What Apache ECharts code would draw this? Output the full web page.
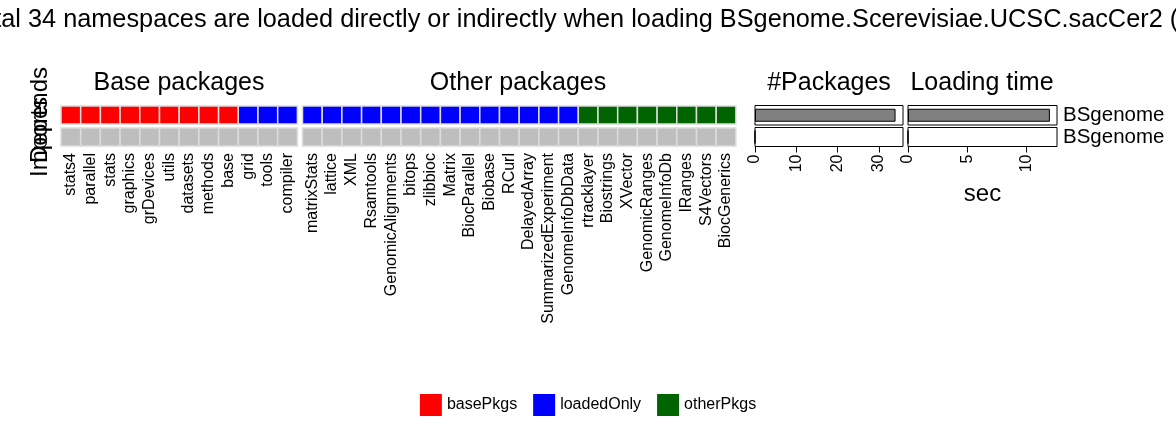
<!DOCTYPE html>
<html>
<head>
<meta charset="utf-8">
<script src="https://cdn.jsdelivr.net/npm/echarts@6/dist/echarts.min.js"></script>
<style>
  html, body { margin: 0; padding: 0; background: #fff; }
  #chart { width: 1176px; height: 427px; }
</style>
</head>
<body>
<div id="chart"></div>
<script>
// package columns, in plot order
const basePkgs = ['stats4', 'parallel', 'stats', 'graphics', 'grDevices', 'utils', 'datasets', 'methods', 'base'];
const baseLoaded = ['grid', 'tools', 'compiler'];
const otherLoaded = ['matrixStats', 'lattice', 'XML', 'Rsamtools', 'GenomicAlignments', 'bitops', 'zlibbioc',
  'Matrix', 'BiocParallel', 'Biobase', 'RCurl', 'DelayedArray', 'SummarizedExperiment', 'GenomeInfoDbData'];
const otherPkgs = ['rtracklayer', 'Biostrings', 'XVector', 'GenomicRanges', 'GenomeInfoDb', 'IRanges', 'S4Vectors', 'BiocGenerics'];
const depRows = ['Depends', 'Imports'];

// right-hand bar panels
const barRows = ['BSgenome', 'BSgenome'];
const pkgCounts = [34, 0];
const loadSec = [12.0, 0];

const titleText = 'In total 34 namespaces are loaded directly or indirectly when loading BSgenome.Scerevisiae.UCSC.sacCer2 (12.0 sec)';

const baseCols = basePkgs.concat(baseLoaded);
const otherCols = otherLoaded.concat(otherPkgs);

const chart = echarts.init(document.getElementById('chart'));

function cell(params, api) {
  const c = api.coord([api.value(0), api.value(1)]);
  const s = api.size([1, 1]);
  return {
    type: 'rect',
    shape: { x: c[0] - s[0] / 2, y: c[1] - s[1] / 2 + 2, width: s[0], height: s[1] - 4 },
    style: { fill: api.visual('color'), stroke: '#dcdcdc', lineWidth: 1.5 },
  };
}

const txt = { color: '#000', fontFamily: 'Liberation Sans' };

function heatSeries(name, idx, cols, row, color) {
  return {
    name,
    type: 'custom',
    xAxisIndex: idx,
    yAxisIndex: idx,
    renderItem: cell,
    itemStyle: { color },
    data: cols.map((c) => [c, row]),
  };
}

function heading(text, x) {
  return { type: 'text', x, y: 83, style: { text, font: '25px "Liberation Sans"', fill: '#000', align: 'center', verticalAlign: 'middle' } };
}

const barGrids = [
  { left: 755, width: 148, top: 105.5, height: 19.5 },
  { left: 755, width: 148, top: 127.5, height: 19 },
  { left: 908, width: 149, top: 105.5, height: 19.5 },
  { left: 908, width: 149, top: 127.5, height: 19 },
];

const option = {
  animation: false,
  textStyle: txt,
  graphic: [
    { type: 'text', left: -55, top: 8, style: { text: titleText, font: '25.3px "Liberation Sans"', fill: '#000' } },
    heading('Base packages', 179),
    heading('Other packages', 518),
    heading('#Packages', 829),
    heading('Loading time', 982),
  ],
  legend: {
    data: ['basePkgs', 'loadedOnly', 'otherPkgs'],
    bottom: 6,
    left: 'center',
    icon: 'rect',
    itemWidth: 22,
    itemHeight: 22,
    itemGap: 16,
    textStyle: { fontSize: 16, color: '#000', fontFamily: 'Liberation Sans' },
  },
  grid: [
    { left: 61, width: 236.4, top: 104, height: 44 },
    { left: 302.5, width: 433.4, top: 104, height: 44 },
  ].concat(barGrids.map((g) => Object.assign({ show: true, borderColor: '#000', borderWidth: 1, backgroundColor: '#fff' }, g))),
  xAxis: [
    { gridIndex: 0, type: 'category', data: baseCols },
    { gridIndex: 1, type: 'category', data: otherCols },
  ].map((a) => Object.assign(a, {
    axisLine: { show: false },
    axisTick: { show: false },
    axisLabel: { rotate: 90, fontSize: 16, margin: 5, interval: 0, color: '#000' },
  })).concat([
    { gridIndex: 2, min: 0, max: 35.8, show: false },
    { gridIndex: 3, min: 0, max: 35.8, interval: 10 },
    { gridIndex: 4, min: 0, max: 12.6, show: false },
    { gridIndex: 5, min: 0, max: 12.6, interval: 5, name: 'sec', nameLocation: 'middle', nameGap: 36,
      nameTextStyle: { fontSize: 24, color: '#000' } },
  ].map((a) => Object.assign({
    type: 'value',
    splitLine: { show: false },
    axisLine: { show: false },
    axisTick: { show: true, length: 6, lineStyle: { color: '#000' } },
    axisLabel: { rotate: 90, fontSize: 16, margin: 8, color: '#000', showMaxLabel: false },
  }, a))),
  yAxis: [
    { gridIndex: 0, type: 'category', data: depRows, inverse: true,
      axisLabel: { rotate: 90, fontSize: 24, margin: 9, color: '#000', interval: 0 } },
    { gridIndex: 1, type: 'category', data: depRows, inverse: true, axisLabel: { show: false } },
  ].map((a) => Object.assign(a, { axisLine: { show: false }, axisTick: { show: false } })).concat(
    [0, 1, 2, 3].map((i) => ({
      gridIndex: 2 + i,
      type: 'category',
      data: [barRows[i % 2]],
      position: 'right',
      axisLine: { show: false },
      axisTick: { show: false },
      axisLabel: { show: i >= 2, fontSize: 20.5, margin: 6, color: '#000' },
    })),
  ),
  series: [
    heatSeries('basePkgs', 0, basePkgs, 'Depends', '#ff0000'),
    heatSeries('loadedOnly', 0, baseLoaded, 'Depends', '#0000ff'),
    heatSeries('loadedOnly', 1, otherLoaded, 'Depends', '#0000ff'),
    heatSeries('otherPkgs', 1, otherPkgs, 'Depends', '#006400'),
    heatSeries('none', 0, baseCols, 'Imports', '#bebebe'),
    heatSeries('none', 1, otherCols, 'Imports', '#bebebe'),
  ].concat([0, 1].map((i) => ({
    type: 'bar',
    xAxisIndex: 2 + i,
    yAxisIndex: 2 + i,
    barWidth: 13,
    itemStyle: { color: '#808080', borderColor: '#000', borderWidth: 1 },
    data: [pkgCounts[i]],
  }))).concat([0, 1].map((i) => ({
    type: 'bar',
    xAxisIndex: 4 + i,
    yAxisIndex: 4 + i,
    barWidth: 13,
    itemStyle: { color: '#808080', borderColor: '#000', borderWidth: 1 },
    data: [loadSec[i]],
  }))),
};

chart.setOption(option);
</script>
</body>
</html>
